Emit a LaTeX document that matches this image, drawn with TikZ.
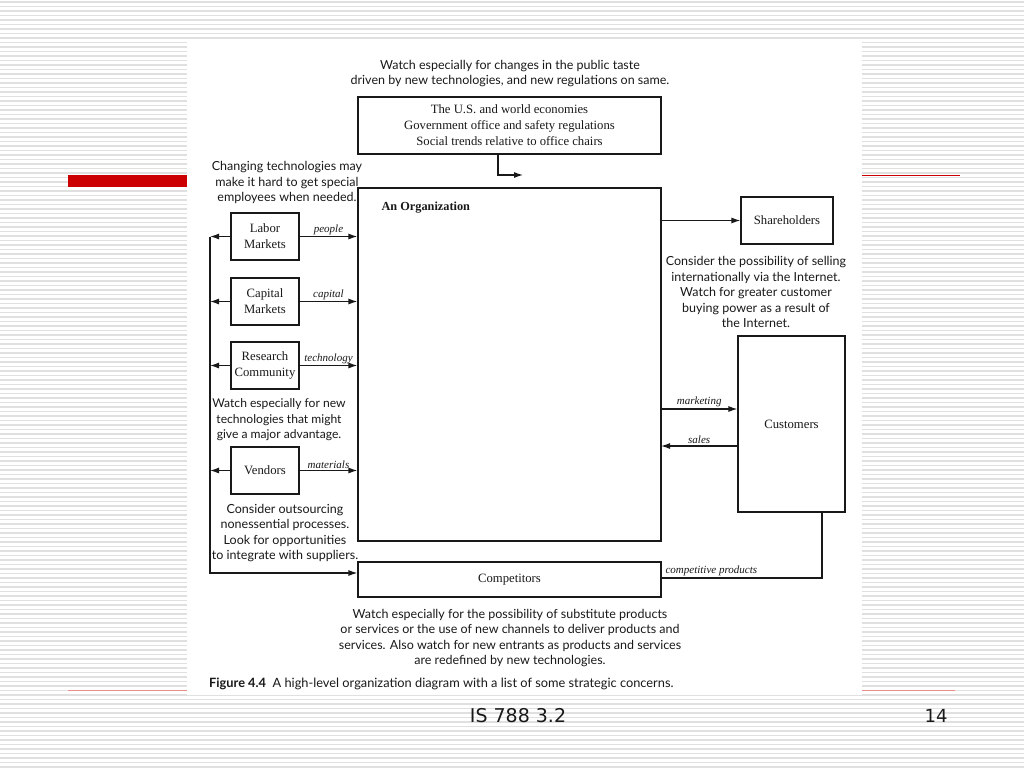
\documentclass[tikz,border=0pt]{standalone}
\usepackage{fontspec}
\setmainfont{Liberation Serif}
\newfontfamily\notefont{Lato}
\newfontfamily\slidefont{DejaVu Sans}
\usetikzlibrary{arrows.meta,positioning,calc}
\definecolor{ink}{RGB}{25,25,25}
\definecolor{stripe}{RGB}{224,224,224}
\definecolor{slidered}{RGB}{204,0,0}
\tikzset{
  >={Latex[length=9pt,width=6pt]},
  box/.style={draw=ink,line width=1.2pt,inner sep=0pt,align=center,
    font=\fontsize{12.7}{16}\selectfont,text=ink},
  note/.style={align=center,inner sep=0pt,font=\notefont\fontsize{12.5}{15.5}\selectfont,text=ink},
  flowlabel/.style={font=\itshape\fontsize{11}{12}\selectfont,text=ink,inner sep=1.5pt},
  link/.style={draw=ink,line width=1.2pt},
}

\begin{document}
\begin{tikzpicture}[x=1pt,y=-1pt]
  \useasboundingbox (0,0) rectangle (1024,768);
  % slide background
  \fill[white] (0,0) rectangle (1024,768);
  \foreach \y in {2,6.5,...,768} \draw[stripe,line width=1.3pt] (0,\y) -- (1024,\y);
  \fill[white] (187,40) rectangle (862,695);
  \fill[slidered] (68,175) rectangle (187,187);
  \draw[slidered,line width=1.2pt] (862,175.5) -- (960,175.5);
  \draw[slidered!45,line width=0.8pt] (68,690.5) -- (187,690.5) (862,690.5) -- (955,690.5);

  % boxes
  \node[box,minimum width=303pt,minimum height=57pt] (env) at (509.5,125.5)
    {The U.S. and world economies\\Government office and safety regulations\\Social trends relative to office chairs};
  \node[box,minimum width=303pt,minimum height=353pt] (org) at (509.5,364.5) {};
  \node[anchor=west,font=\bfseries\fontsize{12.3}{14}\selectfont,text=ink] (orgname) at (378,208) {An Organization};
  \node[box,minimum width=68pt,minimum height=47pt] (labor) at (265,236.5) {Labor\\Markets};
  \node[box,minimum width=68pt,minimum height=47pt] (capital) at (265,301.5) {Capital\\Markets};
  \node[box,minimum width=68pt,minimum height=47pt] (research) at (265,365.5) {Research\\Community};
  \node[box,minimum width=68pt,minimum height=47pt] (vendors) at (265,470.5) {Vendors};
  \node[box,minimum width=303pt,minimum height=35pt] (comp) at (509.5,579.5) {Competitors};
  \node[box,minimum width=92pt,minimum height=47pt] (share) at (787,220.5) {Shareholders};
  \node[box,minimum width=107pt,minimum height=176pt] (cust) at (791.5,424) {Customers};

  % notes
  \node[note] (envnote) at (510,73.5) {Watch especially for changes in the public taste\\driven by new technologies, and new regulations on same.};
  \node[note] (labornote) at (287,182.5) {Changing technologies may\\make it hard to get special\\employees when needed.};
  \node[note,font=\notefont\fontsize{12.1}{15.5}\selectfont] (researchnote) at (279,420) {Watch especially for new\\technologies that might\\give a major advantage.};
  \node[note] (vendornote) at (285,533) {Consider outsourcing\\nonessential processes.\\Look for opportunities\\to integrate with suppliers.};
  \node[note] (sharenote) at (756,292) {Consider the possibility of selling\\internationally via the Internet.\\Watch for greater customer\\buying power as a result of\\the Internet.};
  \node[note] (compnote) at (510,638) {Watch especially for the possibility of substitute products\\or services or the use of new channels to deliver products and\\services. Also watch for new entrants as products and services\\are redefined by new technologies.};
  \node[note,anchor=west,font=\notefont\fontsize{12.8}{15}\selectfont] (caption) at (209,683.5) {\textbf{Figure 4.4}\ \ A high-level organization diagram with a list of some strategic concerns.};

  % connectors
  \coordinate (envout) at (523,175);
  \draw[link,->] (env.south -| 498,0) |- (envout);
  \coordinate (busbot) at (210,573);
  \draw[link,->] (labor.west -| busbot) -- (busbot) -- (busbot -| comp.west);
  \foreach \src/\lab in {labor/people,capital/capital,research/technology,vendors/materials} {
    \draw[link,->] (\src.west) -- (\src.west -| busbot);
    \draw[link,->] (\src.east) -- node[flowlabel,above] {\lab} (\src.east -| org.west);
  }
  \draw[link,->] (org.east |- share.west) -- (share.west);
  \coordinate (mkt) at (661,409);
  \coordinate (sal) at (661,446);
  \draw[link,->] (mkt) -- node[flowlabel,above] {marketing} (mkt -| cust.west);
  \draw[link,->] (sal -| cust.west) -- node[flowlabel,above] {sales} (sal);
  \coordinate (cpturn) at (822,578);
  \draw[link] (cust.south -| cpturn) -- (cpturn) -- node[flowlabel,above,pos=0.69] {competitive products} (cpturn -| comp.east);

  % slide footer
  \node[font=\slidefont\fontsize{19}{22}\selectfont,text=ink] (footer) at (518,716) {IS 788 3.2};
  \node[font=\slidefont\fontsize{18}{22}\selectfont,text=ink] (pageno) at (936,716) {14};
\end{tikzpicture}
\end{document}
